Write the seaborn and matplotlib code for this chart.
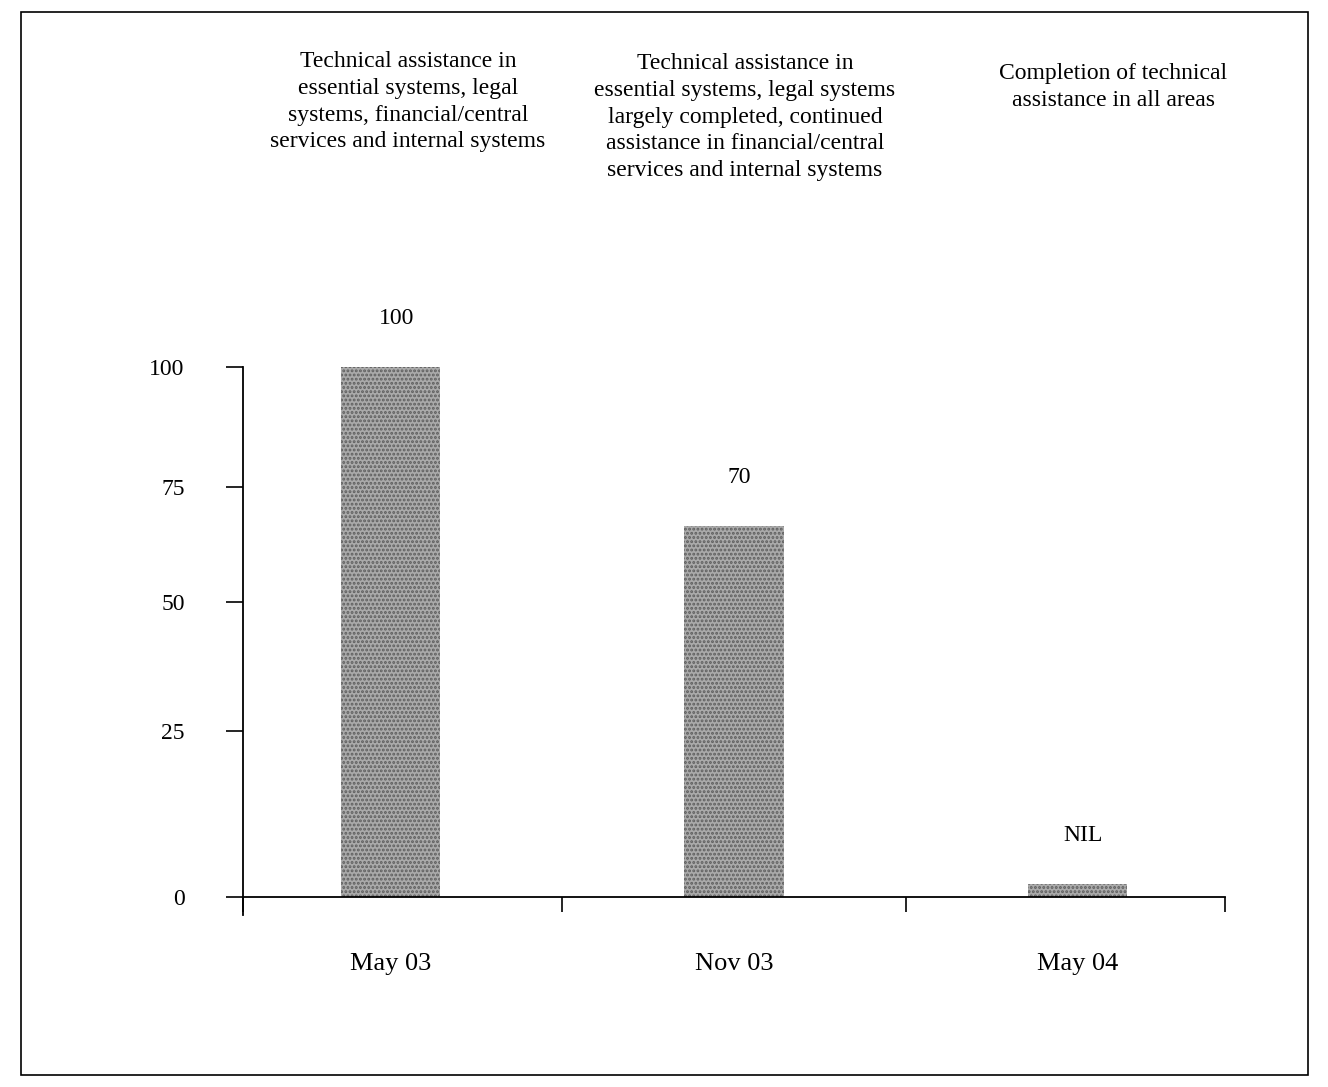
import pandas as pd
import seaborn as sns
import matplotlib.pyplot as plt
from matplotlib.patches import Rectangle

# Data
periods = ["May 03", "Nov 03", "May 04"]
assistance = [100, 70, 2.5]          # NIL drawn as a thin stub
value_labels = ["100", "70", "NIL"]
y_tick_labels = ["0", "25", "50", "75", "100"]
# the printed axis spaces its ticks unevenly; keep their drawn positions
y_tick_pos = [0, 31.3, 55.7, 77.4, 100]
headers = [
    "Technical assistance in\nessential systems, legal\nsystems, financial/central\nservices and internal systems",
    "Technical assistance in\nessential systems, legal systems\nlargely completed, continued\nassistance in financial/central\nservices and internal systems",
    "Completion of technical\nassistance in all areas",
]

df = pd.DataFrame({"period": periods, "value": assistance})

sns.set_style("white")
plt.rcParams["font.family"] = ["Liberation Serif", "DejaVu Serif"]
plt.rcParams["text.color"] = "black"
plt.rcParams["xtick.color"] = "black"
plt.rcParams["ytick.color"] = "black"
plt.rcParams["hatch.linewidth"] = 1.4

W, H = 1328, 1087
fig = plt.figure(figsize=(W / 100, H / 100), dpi=100)
ax = fig.add_axes([243 / W, (H - 915) / H, (1225 - 243) / W, (915 - 367) / H])

sns.barplot(data=df, x="period", y="value", color="#aaaaaa", width=0.29,
            linewidth=0, ax=ax)
# speckled print texture
for p in ax.patches:
    p.set_hatch("....")
    p.set_edgecolor("#5e5e5e")
    p.set_linewidth(0)

ax.set_xlim(-0.43, 2.43)
ax.set_ylim(-3.4, 100)
ax.set_xlabel("")
ax.set_ylabel("")

# axes styling
for side in ["top", "right"]:
    ax.spines[side].set_visible(False)
ax.spines["bottom"].set_position(("data", 0))
for side in ["left", "bottom"]:
    ax.spines[side].set_color("black")
    ax.spines[side].set_linewidth(1.3)

ax.set_yticks(y_tick_pos)
ax.set_yticklabels(y_tick_labels, fontsize=17)
ax.tick_params(axis="y", direction="out", length=12, width=1.2, pad=30, left=True)

ax.set_xticks(range(len(periods)))
ax.set_xticklabels(periods, fontsize=19)
ax.tick_params(axis="x", which="major", length=0, pad=40)
ax.set_xticks([-0.43, 0.5, 1.5, 2.43], minor=True)
ax.tick_params(axis="x", which="minor", direction="out", length=11, width=1.2, bottom=True)

# value labels above bars
for i, (v, lab) in enumerate(zip(assistance, value_labels)):
    ax.annotate(lab, (i, v), xytext=(4, 35), textcoords="offset points",
                ha="center", va="center", fontsize=17)

# header descriptions
header_x = [408, 745, 1113]
header_top = [51, 53, 63]
for x, y, txt in zip(header_x, header_top, headers):
    fig.text(x / W, 1 - y / H, txt, ha="center", va="top", fontsize=17,
             linespacing=1.36)

# outer frame
fig.patches.append(Rectangle((21 / W, 12 / H), (1308 - 21) / W, (1075 - 12) / H,
                             transform=fig.transFigure, fill=False,
                             edgecolor="black", linewidth=1.2))

fig.savefig("out.png", dpi=100)
